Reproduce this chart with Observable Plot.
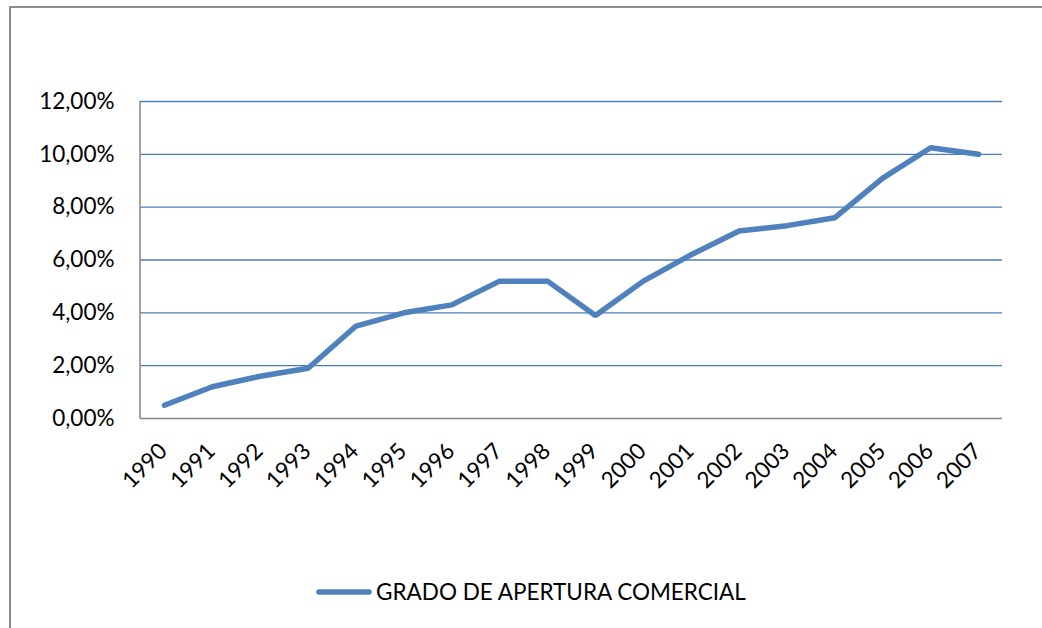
<!DOCTYPE html>
<html>
<head>
<meta charset="utf-8">
<script src="https://cdn.jsdelivr.net/npm/d3@7"></script>
<script src="https://cdn.jsdelivr.net/npm/@observablehq/plot@0.6"></script>
<style>
  html, body { margin: 0; padding: 0; background: #fff; overflow: hidden; }
  #frame { position: absolute; left: 9px; top: 6px; width: 1100px; height: 700px; border-left: 2px solid #8c8c8c; border-top: 2px solid #8c8c8c; box-sizing: border-box; }
  #chart { position: absolute; left: 0; top: 0; }
  #legend { position: absolute; left: 0; top: 572px; width: 1042px; }
</style>
</head>
<body>
<div id="frame"></div>
<div id="chart"></div>
<div id="legend"></div>
<script>
const years = ["1990","1991","1992","1993","1994","1995","1996","1997","1998","1999","2000","2001","2002","2003","2004","2005","2006","2007"];
const values = [0.5, 1.2, 1.6, 1.9, 3.5, 4.0, 4.3, 5.2, 5.2, 3.9, 5.2, 6.2, 7.1, 7.3, 7.6, 9.1, 10.25, 10.0];
const yTicks = [0, 2, 4, 6, 8, 10, 12];
const seriesName = "GRADO DE APERTURA COMERCIAL";

const data = years.map((y, i) => ({year: y, value: values[i]}));
const fmt = d => d.toFixed(2).replace(".", ",") + "%";
const FONT = "Lato, 'Open Sans', sans-serif";
const BLUE = "#4F81BD";
const FS = 22.5;

const chart = Plot.plot({
  width: 1042,
  height: 540,
  marginTop: 101,
  marginLeft: 140,
  marginRight: 40,
  marginBottom: 122,
  style: {fontFamily: FONT, fontSize: FS + "px", color: "#000", background: "transparent"},
  x: {type: "point", domain: years, padding: 0.5, round: false, label: null},
  y: {domain: [0, 12], ticks: yTicks, label: null},
  marks: [
    Plot.ruleY(yTicks.filter(d => d > 0), {stroke: "#4A7EBB", strokeWidth: 1.4}),
    Plot.ruleY([0], {stroke: "#868686", strokeWidth: 1.5}),
    Plot.axisY({ticks: yTicks, tickFormat: fmt, tickSize: 0, tickPadding: 26, fontSize: FS, fill: "#000"}),
    Plot.axisX({tickSize: 0, tickRotate: -45, tickPadding: 29, fontSize: FS, fill: "#000", dx: -1}),
    Plot.line(data, {x: "year", y: "value", stroke: BLUE, strokeWidth: 5.5, strokeLinejoin: "miter", strokeLinecap: "round"})
  ]
});
document.getElementById("chart").appendChild(chart);
const svg = d3.select(chart);
svg.append("line").attr("x1", 140).attr("x2", 140).attr("y1", 101).attr("y2", 418.5)
  .attr("stroke", "#868686").attr("stroke-width", 1.5);

// legend
const lg = d3.select("#legend").append("svg").attr("width", 1042).attr("height", 40);
lg.append("line").attr("x1", 319).attr("x2", 369).attr("y1", 20).attr("y2", 20)
  .attr("stroke", BLUE).attr("stroke-width", 5.5).attr("stroke-linecap", "round");
lg.append("text").attr("x", 376).attr("y", 20).attr("dy", "0.35em")
  .attr("font-family", FONT).attr("font-size", FS).attr("fill", "#000").text(seriesName);
</script>
</body>
</html>
